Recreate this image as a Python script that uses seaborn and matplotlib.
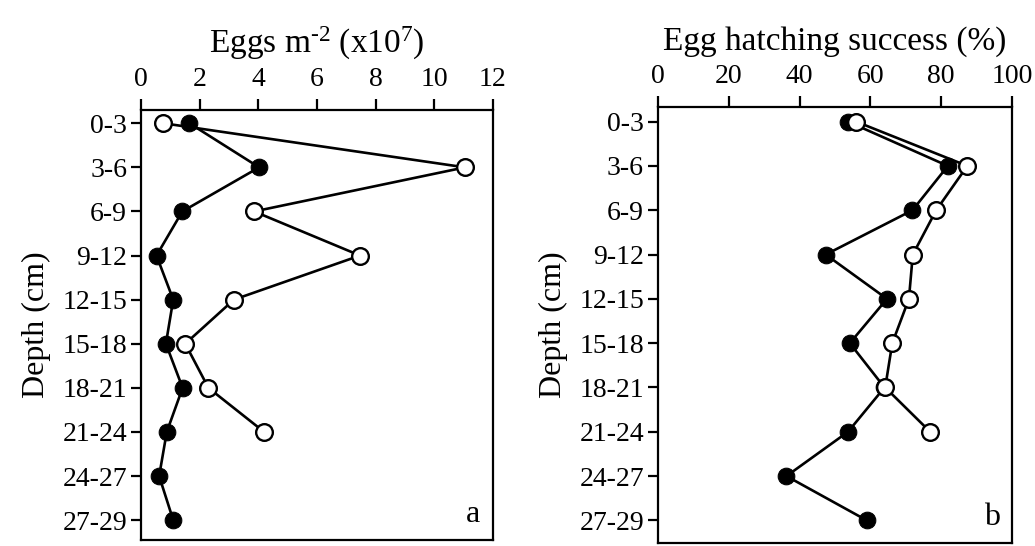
import numpy as np
import pandas as pd
import matplotlib
matplotlib.use("Agg")
import matplotlib.pyplot as plt
import seaborn as sns

depths = ["0-3", "3-6", "6-9", "9-12", "12-15", "15-18", "18-21", "21-24", "24-27", "27-29"]
eggs_filled = [1.65, 4.03, 1.41, 0.53, 1.10, 0.85, 1.42, 0.88, 0.62, 1.10]
eggs_open = [0.76, 11.05, 3.86, 7.47, 3.17, 1.51, 2.30, 4.20]
hatch_filled = [53.7, 81.9, 71.9, 47.4, 64.7, 54.2, 64.0, 53.7, 36.3, 59.0]
hatch_open = [56.0, 87.4, 78.6, 72.0, 70.9, 66.2, 64.2, 76.9]

sns.set_theme(style="white")
plt.rcParams['font.family'] = ['Liberation Serif', 'DejaVu Serif']
plt.rcParams['mathtext.fontset'] = 'custom'
plt.rcParams['mathtext.rm'] = 'Liberation Serif'
plt.rcParams['mathtext.it'] = 'Liberation Serif:italic'
plt.rcParams['mathtext.default'] = 'rm'

fig = plt.figure(figsize=(10.35, 5.46), dpi=100)
axA = fig.add_axes([0.1362, 0.011, 0.340, 0.7875])
axB = fig.add_axes([0.6357, 0.0055, 0.342, 0.7985])

def draw(ax, filled, opened, xlim, xticks, ylim, title, letter):
    df_f = pd.DataFrame({"x": filled, "y": np.arange(len(filled))})
    df_o = pd.DataFrame({"x": opened, "y": np.arange(len(opened))})
    sns.lineplot(data=df_f, x="x", y="y", orient="y", sort=False, ax=ax,
                 color="black", lw=1.9, marker="o", markersize=12,
                 markerfacecolor="black", markeredgecolor="black", zorder=2)
    sns.lineplot(data=df_o, x="x", y="y", orient="y", sort=False, ax=ax,
                 color="black", lw=1.9, marker="o", markersize=12,
                 markerfacecolor="white", markeredgecolor="black",
                 markeredgewidth=1.7, zorder=3)
    ax.set_xlim(*xlim)
    ax.set_ylim(*ylim)
    ax.set_xticks(xticks)
    ax.set_xticklabels([str(t) for t in xticks])
    ax.set_yticks(np.arange(len(depths)))
    ax.set_yticklabels(depths)
    ax.xaxis.tick_top()
    ax.xaxis.set_label_position("top")
    ax.tick_params(axis="x", top=True, bottom=False, direction="out",
                   length=8, width=1.6, labelsize=20, pad=5, colors="black")
    ax.tick_params(axis="y", left=True, direction="out", length=7, width=1.6,
                   labelsize=20, pad=3, colors="black")
    for s in ax.spines.values():
        s.set_visible(True)
        s.set_color("black")
        s.set_linewidth(1.6)
    ax.set_xlabel(title, fontsize=24, labelpad=10, color="black")
    ax.set_ylabel("Depth (cm)", fontsize=23, labelpad=8, color="black")
    ax.text(0.965, 0.025, letter, transform=ax.transAxes, ha="right",
            va="bottom", fontsize=23, color="black")

draw(axA, eggs_filled, eggs_open, (0, 12), [0, 2, 4, 6, 8, 10, 12],
     (9.45, -0.30), "Eggs m$^{\u2010 2}$ (x10$^{7}$)", "a")
draw(axB, hatch_filled, hatch_open, (0, 100), [0, 20, 40, 60, 80, 100],
     (9.51, -0.33), "Egg hatching success (%)", "b")

fig.savefig("out.png", dpi=100)
